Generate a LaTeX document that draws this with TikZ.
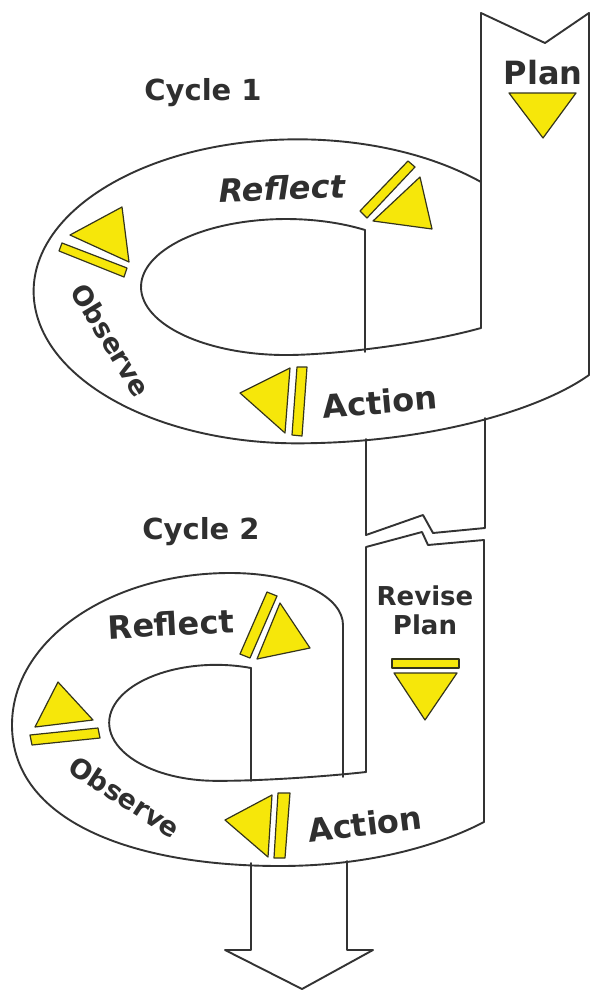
\documentclass[tikz,border=0pt]{standalone}
\usepackage{fontspec}
\setmainfont{DejaVu Sans}
\usepackage{xcolor}
\usepackage{tikz}
\usetikzlibrary{positioning}
\definecolor{ARink}{HTML}{2F2F2F}
\definecolor{ARline}{HTML}{333333}
\definecolor{ARyellow}{HTML}{F6E70A}
\definecolor{ARedge}{HTML}{34341C}
\tikzset{
  bandline/.style={draw=ARline, line width=1.9pt, line join=round, line cap=round},
  yellowbit/.style={fill=ARyellow, draw=ARedge, line width=1.2pt, line join=round},
  steplabel/.style={font=\fontsize{32}{32}\selectfont\bfseries, text=ARink, inner sep=0pt},
  observelabel/.style={font=\fontsize{27}{27}\selectfont\bfseries, text=ARink, inner sep=0pt},
  cyclelabel/.style={font=\fontsize{29}{29}\selectfont\bfseries, text=ARink, inner sep=0pt},
  revlabel/.style={font=\fontsize{26}{26}\selectfont\bfseries, text=ARink, inner sep=0pt, align=center}
}

\begin{document}
\begin{tikzpicture}[x=1pt, y=-1pt]
\fill[white] (0,0) rectangle (592,990);
\useasboundingbox (0,0) rectangle (592,990);

% cycle 1: plan column, loop and hole
\draw[bandline] (589,375) -- (589,13) -- (545,43) -- (481,13) -- (481,328);
\draw[bandline] (481,182) arc[start angle=-46, end angle=-270, x radius=264, y radius=152]
  .. controls (430,443) and (540,410) .. (589,375);
\draw[bandline] (365,230) arc[start angle=-57, end angle=-270, x radius=145, y radius=68]
  .. controls (330,355) and (420,345) .. (481,328);
\draw[bandline] (365,230) -- (365,352);
% link down to cycle 2 (broken)
\draw[bandline] (366,439) -- (366,535) -- (423,515) -- (433,533) -- (485,528) -- (485,418);

% cycle 2: revise column, loop and hole
\draw[bandline] (366,772) -- (366,547) -- (422,532) -- (428,545) -- (484,540) -- (484,822);
\draw[bandline] (343,777) -- (343,625) .. controls (343,598) and (300,573) .. (230,573)
  .. controls (110,573) and (12,640) .. (12,725)
  .. controls (12,820) and (130,866) .. (280,866)
  .. controls (370,866) and (440,845) .. (484,822);
\draw[bandline] (251,668) arc[start angle=-71, end angle=-270, x radius=107, y radius=58]
  .. controls (265,781) and (330,776) .. (366,772);
\draw[bandline] (251,668) -- (251,781);
% way out
\draw[bandline] (251,863) -- (251,950) -- (225,950) -- (302,989) -- (373,950) -- (347,950) -- (347,861);

% yellow arrows, cycle 1
\filldraw[yellowbit] (509,93) -- (576,93) -- (543,138) -- cycle;
\filldraw[yellowbit] (360,211) -- (408,161) -- (415,167) -- (367,218) -- cycle;
\filldraw[yellowbit] (373,221) -- (420,177) -- (432,229) -- cycle;
\filldraw[yellowbit] (70,235) -- (122,207) -- (129,262) -- cycle;
\filldraw[yellowbit] (62,243) -- (127,268) -- (124,277) -- (59,251) -- cycle;
\filldraw[yellowbit] (240,393) -- (290,368) -- (285,433) -- cycle;
\filldraw[yellowbit] (297,367) -- (307,367) -- (302,436) -- (292,435) -- cycle;

% yellow arrows, cycle 2
\filldraw[yellowbit] (392,659) rectangle (459,668);
\filldraw[yellowbit] (394,673) -- (457,673) -- (425,720) -- cycle;
\filldraw[yellowbit] (240,654) -- (267,592) -- (277,596) -- (250,658) -- cycle;
\filldraw[yellowbit] (257,659) -- (280,603) -- (310,648) -- cycle;
\filldraw[yellowbit] (35,727) -- (58,682) -- (93,720) -- cycle;
\filldraw[yellowbit] (30,735) -- (98,728) -- (100,738) -- (32,745) -- cycle;
\filldraw[yellowbit] (225,820) -- (272,795) -- (268,857) -- cycle;
\filldraw[yellowbit] (278,793) -- (290,793) -- (285,858) -- (274,858) -- cycle;

% labels
\node[steplabel] (plan1) at (543,73) {Plan};
\node[cyclelabel] (cycle1) at (203,93) {Cycle 1};
\node[steplabel, font=\fontsize{32}{32}\selectfont\bfseries\itshape, rotate=2] (reflect1) at (282,188) {Reflect};
\node[observelabel, rotate=-59] (observe1) at (111,340) {Observe};
\node[steplabel, rotate=5] (action1) at (380,402) {Action};
\node[cyclelabel] (cycle2) at (201,532) {Cycle 2};
\node[revlabel] (revise) at (425,596) {Revise};
\node[revlabel, below=8pt of revise] (plan2) {Plan};
\node[steplabel, rotate=3] (reflect2) at (171,624) {Reflect};
\node[observelabel, rotate=-33] (observe2) at (125,797) {Observe};
\node[steplabel, rotate=7] (action2) at (365,824) {Action};
\end{tikzpicture}
\end{document}
